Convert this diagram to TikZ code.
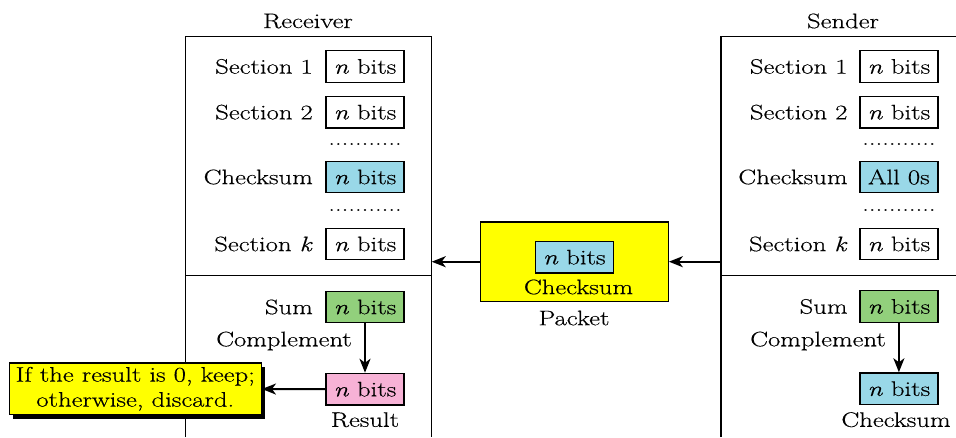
\documentclass[tikz,border=0pt]{standalone}
\usepackage{fontspec}
\setmainfont{Latin Modern Roman}[FakeStretch=1.27,FakeBold=0.4]
\usetikzlibrary{arrows.meta,shadows}
\definecolor{ckblue}{RGB}{153,216,232}
\definecolor{sumgreen}{RGB}{146,208,124}
\definecolor{respink}{RGB}{247,178,214}
\definecolor{noteyellow}{RGB}{255,255,0}
\newcommand{\nbits}{\textit{n} bits}

\begin{document}
\begin{tikzpicture}[x=1pt,y=-1pt,
  every node/.style={font=\fontsize{21}{25}\selectfont, inner sep=0pt},
  frame/.style={line width=1.3pt},
  bitbox/.style={draw, line width=1.3pt, minimum width=78pt, minimum height=31.6pt},
  lbl/.style={anchor=east},
  flow/.style={line width=2pt, -{Stealth[length=14pt,width=11pt,inset=4pt]}},
  notebox/.style={draw, line width=1.3pt, fill=noteyellow, align=center,
    minimum width=252pt, minimum height=51.7pt,
    drop shadow={shadow xshift=4pt, shadow yshift=-4pt, fill=black, opacity=1}},
  packetbox/.style={draw, line width=1.3pt, fill=noteyellow,
    minimum width=188pt, minimum height=79.3pt}
]
\useasboundingbox (0,0) rectangle (956,437);

% ---------------- Receiver ----------------
\node (rtitle) at (308,21) {Receiver};
\draw[frame] (185.7,437) -- (185.7,36.7) -- (431.7,36.7) -- (431.7,437);
\draw[frame] (185.7,275.3) -- (431.7,275.3);

\node[bitbox] (r1) at (365,66.5) {\nbits};
\node[lbl] (r1l) at (313,66.5) {Section 1};
\node[bitbox] (r2) at (365,112.2) {\nbits};
\node[lbl] (r2l) at (313,112.2) {Section 2};
\node (rd1) at (365,144) {...........};
\node[bitbox, fill=ckblue] (rc) at (365,177) {\nbits};
\node[lbl] (rcl) at (313,177) {Checksum};
\node (rd2) at (365,210) {...........};
\node[bitbox] (rk) at (365,244) {\nbits};
\node[lbl] (rkl) at (313,244) {Section \textit{k}};

\node[bitbox, fill=sumgreen] (rsum) at (365,307) {\nbits};
\node[lbl] (rsuml) at (313,307) {Sum};
\node[lbl] (rcomp) at (352,341) {Complement};
\node[bitbox, fill=respink] (rres) at (365,389.2) {\nbits};
\node (rresl) at (365,419.7) {Result};
\draw[flow] (rsum) -- (rres);

\node[notebox] (note) at (135.3,388.8) {If the result is 0, keep;\\otherwise, discard.};
\draw[flow] (rres) -- (note);

% ---------------- Packet ----------------
\node[packetbox] (packet) at (574.2,261.7) {};
\node[bitbox, fill=ckblue] (pck) at (574.3,257.2) {\nbits};
\node (pckl) at (578.5,287) {Checksum};
\node (pl) at (574,318) {Packet};

% ---------------- Sender ----------------
\node (stitle) at (843,21) {Sender};
\draw[frame] (721,437) -- (721,36.7) -- (956,36.7);
\draw[frame] (721,275.3) -- (956,275.3);
\coordinate (sendin) at (721,261.7);
\coordinate (recvin) at (431.7,261.7);

\node[bitbox] (s1) at (898.9,66.5) {\nbits};
\node[lbl] (s1l) at (847.7,66.5) {Section 1};
\node[bitbox] (s2) at (898.9,112.2) {\nbits};
\node[lbl] (s2l) at (847.7,112.2) {Section 2};
\node (sd1) at (898.9,144) {...........};
\node[bitbox, fill=ckblue] (sc) at (898.9,177) {All 0s};
\node[lbl] (scl) at (847.7,177) {Checksum};
\node (sd2) at (898.9,210) {...........};
\node[bitbox] (sk) at (898.9,244) {\nbits};
\node[lbl] (skl) at (847.7,244) {Section \textit{k}};

\node[bitbox, fill=sumgreen] (ssum) at (898.9,306.5) {\nbits};
\node[lbl] (ssuml) at (847.7,306.5) {Sum};
\node[lbl] (scomp) at (886,341) {Complement};
\node[bitbox, fill=ckblue] (sres) at (898.9,388.7) {\nbits};
\node (sresl) at (896,419.7) {Checksum};
\draw[flow] (ssum) -- (sres);

% ---------------- Transfer ----------------
\draw[flow] (sendin) -- (packet.east);
\draw[flow] (packet.west) -- (recvin);
\end{tikzpicture}
\end{document}
